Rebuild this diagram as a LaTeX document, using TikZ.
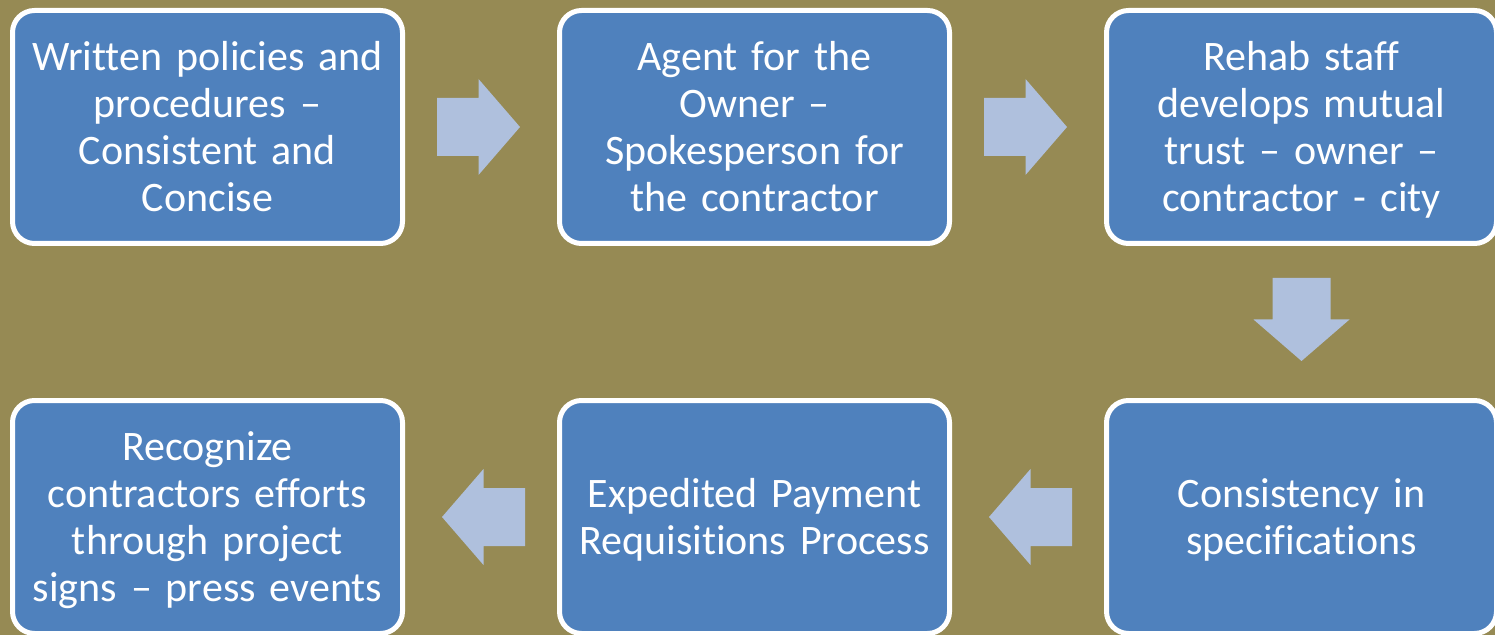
\documentclass[tikz,border=0pt]{standalone}
\usepackage{fontspec}
\setmainfont{Carlito}[Ligatures=NoCommon, RawFeature={-liga;-clig;-dlig;-calt}, WordSpace=0.85]
\usetikzlibrary{calc}
\definecolor{olivebg}{HTML}{968A54}
\definecolor{boxblue}{HTML}{4F81BD}
\definecolor{arrowblue}{HTML}{AFC0DD}
% taller opening strut so the lines sit a little lower in each box
\newcommand\openstrut{\rule{0pt}{43pt}}
\begin{document}
\begin{tikzpicture}[x=1pt,y=1pt,
  stepbox/.style={rectangle, rounded corners=22pt, draw=white, line width=5pt,
    fill=boxblue, minimum width=390pt, minimum height=233pt, inner sep=0pt,
    text=white, align=center, text width=370pt,
    font=\fontsize{42}{47}\selectfont},
  flowarrow/.pic={\fill[arrowblue] (-44,-29) -- (-2.5,-29) -- (-2.5,-48) -- (39,0)
    -- (-2.5,48) -- (-2.5,29) -- (-44,29) -- cycle;}]
\useasboundingbox (0,0) rectangle (1495,635);
\clip (0,0) rectangle (1495,635);
\fill[olivebg] (0,0) rectangle (1495,635);

% top row
\node[stepbox] (b1) at (207.5,508) {\openstrut Written policies and\\procedures –\\Consistent and\\Concise\strut};
\node[stepbox] (b2) at (754.5,508) {\openstrut Agent for the\\Owner –\\Spokesperson for\\the contractor\strut};
\node[stepbox] (b3) at (1301.5,508) {\openstrut Rehab staff\\develops mutual\\trust – owner –\\contractor - city\strut};
% bottom row
\node[stepbox] (b6) at (1301.5,118) {\openstrut Consistency in\\specifications\strut};
\node[stepbox] (b5) at (754.5,118) {\openstrut Expedited Payment\\Requisitions Process\strut};
\node[stepbox] (b4) at (207.5,118) {\openstrut Recognize\\contractors efforts\\through project\\signs – press events\strut};

% block arrows between the steps
\pic at ($(b1.east)!0.5!(b2.west)$) {flowarrow};
\pic at ($(b2.east)!0.5!(b3.west)$) {flowarrow};
\pic[rotate=-90] at ($(b3.south)!0.5!(b6.north)$) {flowarrow};
\pic[rotate=180] at ($(b6.west)!0.5!(b5.east)$) {flowarrow};
\pic[rotate=180] at ($(b5.west)!0.5!(b4.east)$) {flowarrow};
\end{tikzpicture}
\end{document}
